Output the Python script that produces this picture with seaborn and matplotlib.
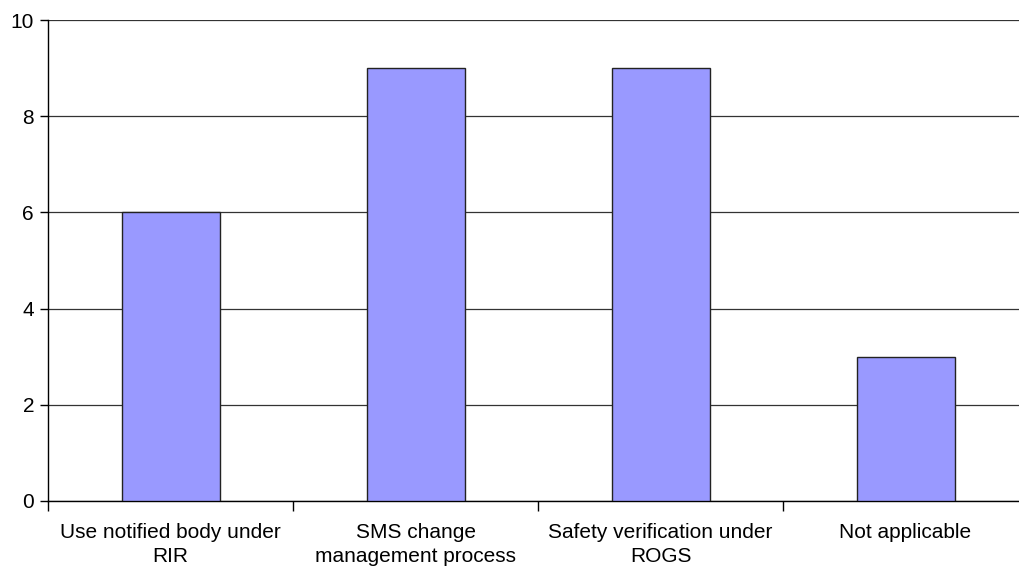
import matplotlib
matplotlib.use("Agg")
import matplotlib.pyplot as plt
import seaborn as sns
import numpy as np
import pandas as pd

categories = ["Use notified body under\nRIR", "SMS change\nmanagement process",
              "Safety verification under\nROGS", "Not applicable"]
values = [6, 9, 9, 3]
yticks = [0, 2, 4, 6, 8, 10]

sns.set_theme(style="white")
plt.rcParams['font.family'] = ['Liberation Sans', 'DejaVu Sans']

fig = plt.figure(figsize=(10.19, 5.67), dpi=100)
W, H = 1019, 567
ax = fig.add_axes([48 / W, 1 - 501 / H, (1028 - 48) / W, (501 - 20) / H])

df = pd.DataFrame({"cat": categories, "val": values})
sns.barplot(data=df, x="cat", y="val", ax=ax, color="#9999FF", saturation=1,
            width=0.4, edgecolor="#222222", linewidth=1.0, zorder=3)

ax.set_xlim(-0.5, len(categories) - 0.5)
ax.set_ylim(0, 10)
ax.set_yticks(yticks)
ax.set_yticklabels([str(t) for t in yticks], fontsize=15, color="black")
ax.yaxis.grid(True, color="#333333", linewidth=0.9, zorder=0)
ax.set_axisbelow(True)

ax.set_xticks(range(len(categories)))
ax.set_xticklabels(categories, fontsize=15, color="black", linespacing=1.3)
ax.tick_params(axis="x", which="major", length=0, pad=16)
ax.set_xticks(np.arange(-0.5, len(categories) - 0.5, 1.0), minor=True)
ax.tick_params(axis="x", which="minor", length=7, width=1, color="black", direction="out", bottom=True)
ax.tick_params(axis="y", length=6, width=1, color="black", direction="out", left=True, pad=4)

ax.set_xlabel("")
ax.set_ylabel("")
for s in ["top", "right"]:
    ax.spines[s].set_visible(False)
for s in ["left", "bottom"]:
    ax.spines[s].set_visible(True)
    ax.spines[s].set_color("black")
    ax.spines[s].set_linewidth(1.0)

fig.savefig("out.png", dpi=100)
